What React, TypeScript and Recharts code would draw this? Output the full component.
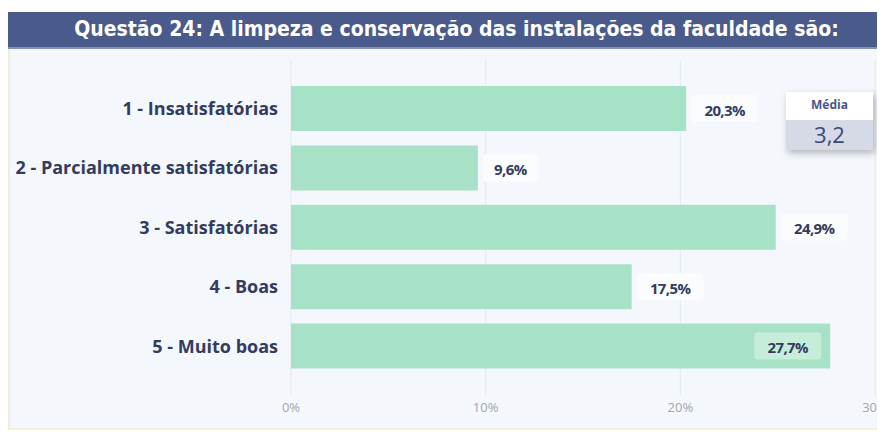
import React from "react"
import { BarChart, Bar, XAxis, YAxis, CartesianGrid, LabelList } from "recharts"

const categories = [
  "1 - Insatisfatórias",
  "2 - Parcialmente satisfatórias",
  "3 - Satisfatórias",
  "4 - Boas",
  "5 - Muito boas",
]
const percentages = [20.3, 9.6, 24.9, 17.5, 27.7]
const xTicks = [0, 10, 20, 30]
const mediaValue = "3,2"

const data = categories.map((name, i) => ({ name, pct: percentages[i] }))

const W = 877
const H = 381
const labelColor = "#333c5e"
const barColor = "#a7e1c7"

const fmt = (v: number) => v.toFixed(1).replace(".", ",") + "%"

function ValueLabel(props: any) {
  const { x, y, width, height, value } = props
  const txt = fmt(Number(value))
  const bw = txt.length * 12 + 7
  const bh = 27
  const end = x + width
  const inside = end + 5 + bw > W - 2
  const bx = inside ? end - 9 - bw : end + 5
  const by = y + height / 2 - bh / 2
  return (
    <g>
      <rect x={bx} y={by} width={bw} height={bh} rx={4} fill={inside ? "#c6ecda" : "#fafcfe"} />
      <text
        x={bx + bw / 2}
        y={y + height / 2 + 1}
        textAnchor="middle"
        dominantBaseline="central"
        fontFamily="'Open Sans', sans-serif"
        fontWeight={700}
        fontSize={15}
        fill={labelColor}
        letterSpacing={-0.6}
      >
        {txt}
      </text>
    </g>
  )
}

export default function App() {
  return (
    <div style={{ position: "relative", width: W, marginTop: 4 }}>
      <div
        style={{
          height: 37,
          background: "#4a5a8b",
          color: "#fff",
          fontFamily: "'DejaVu Sans Condensed', sans-serif",
          fontWeight: 700,
          fontSize: 21,
          lineHeight: "35px",
          textAlign: "center",
          paddingLeft: 20,
          boxSizing: "border-box",
          borderBottom: "2px solid #8390b5",
        }}
      >
        Questão 24: A limpeza e conservação das instalações da faculdade são:
      </div>
      <div
        style={{
          width: W,
          height: H,
          background: "#f4f7fc",
          borderLeft: "2px solid #eeeedc",
          borderBottom: "2px solid #efeedb",
          boxSizing: "border-box",
        }}
      >
        <BarChart
          width={W - 2}
          height={H - 2}
          layout="vertical"
          data={data}
          margin={{ top: 11, right: 10, bottom: 3, left: 0 }}
          barSize={45}
        >
          <CartesianGrid horizontal={false} stroke="#e4e8ef" />
          <XAxis
            type="number"
            domain={[0, 30]}
            ticks={xTicks}
            tickFormatter={(v) => v + "%"}
            axisLine={false}
            tickLine={false}
            tick={{ fill: "#a3a6ad", fontSize: 13, fontFamily: "'Open Sans', sans-serif" }}
            height={30}
            interval={0}
          />
          <YAxis
            type="category"
            dataKey="name"
            width={281}
            axisLine={false}
            tickLine={false}
            tickMargin={7}
            padding={{ top: 19, bottom: 19 }}
            interval={0}
            tick={{ fill: labelColor, fontSize: 18, fontWeight: 700, fontFamily: "'Open Sans', sans-serif" }}
          />
          <Bar dataKey="pct" fill={barColor} isAnimationActive={false}>
            <LabelList dataKey="pct" content={ValueLabel} />
          </Bar>
        </BarChart>
      </div>
      <div
        style={{
          position: "absolute",
          left: 778,
          top: 80,
          width: 87,
          height: 58,
          boxShadow: "2px 3px 7px rgba(0,0,0,0.28)",
          fontFamily: "'Open Sans', sans-serif",
          textAlign: "center",
        }}
      >
        <div style={{ height: 28, background: "#ffffff", color: "#4a5688", fontSize: 12, fontWeight: 700, lineHeight: "26px" }}>
          Média
        </div>
        <div style={{ height: 30, background: "#d6dae6", color: "#3c4878", fontSize: 22, lineHeight: "28px" }}>
          {mediaValue}
        </div>
      </div>
    </div>
  )
}
